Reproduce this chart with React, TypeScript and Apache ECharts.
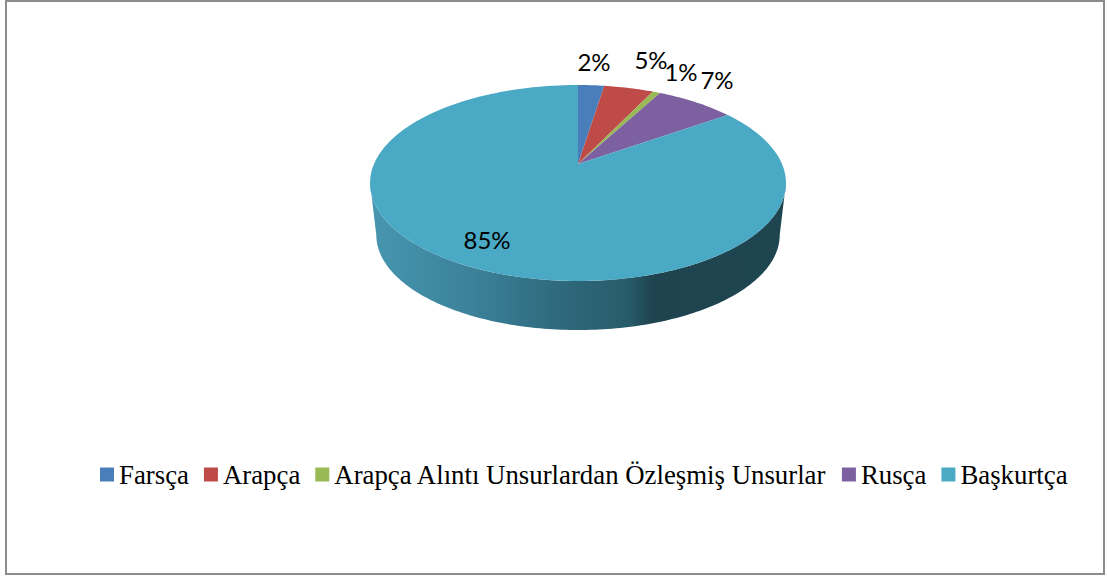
import React, { useEffect, useRef } from "react";
import * as echarts from "echarts";

const categories = ["Farsça", "Arapça", "Arapça Alıntı Unsurlardan Özleşmiş Unsurlar", "Rusça", "Başkurtça"];
const shares = [2.45, 4.65, 0.7, 7.4, 84.8];
const colors = ["#4a7ebb", "#be4b48", "#98b954", "#7d60a0", "#4aa9c4"];

// Layout of the tilted pie: a projective map of the unit circle
const CX = 578, CY = 164, A = 204, B = 94.3, P = 0.194;
const TOP_MID_Y = 183, BASE_MID_Y = 235, BASE_SCALE = 0.97;
const labelCenters = [[594, 61], [651, 59], [681, 71], [717, 79], [487, 239]];

const total = shares.reduce((a, b) => a + b, 0);
const DEG = Math.PI / 180;
const RIM_FROM = Math.acos(-P);
const RIM_TO = 2 * Math.PI - RIM_FROM;

function project(theta: number): [number, number] {
  const u = Math.sin(theta), v = -Math.cos(theta);
  const w = 1 - P * v;
  return [CX + (A * u) / w, CY + (B * v) / w];
}
function base(p: [number, number]): [number, number] {
  return [CX + BASE_SCALE * (p[0] - CX), BASE_MID_Y + BASE_SCALE * (p[1] - TOP_MID_Y)];
}
function sample(a: number, b: number): number[] {
  const out: number[] = [];
  const n = Math.max(2, Math.ceil((b - a) / DEG));
  for (let i = 0; i <= n; i++) out.push(a + ((b - a) * i) / n);
  return out;
}

const wallGradient = () =>
  new echarts.graphic.LinearGradient(0, 0, 1, 0, [
    { offset: 0, color: "#4796b0" },
    { offset: 0.25, color: "#3b8199" },
    { offset: 0.45, color: "#2f6a7d" },
    { offset: 0.62, color: "#285c6b" },
    { offset: 0.68, color: "#1e444f" },
    { offset: 1, color: "#1e4650" },
  ]);

function makeRender(index: number) {
  return (_params: any, api: any) => {
    const value = api.value(0) as number;
    const before = shares.slice(0, index).reduce((a, b) => a + b, 0);
    const start = (before / total) * 2 * Math.PI;
    const end = ((before + value) / total) * 2 * Math.PI;
    const children: any[] = [];

    // Side wall: only the near half of the rim can be seen
    const rimA = Math.max(start, RIM_FROM);
    const rimB = Math.min(end, RIM_TO);
    if (rimB > rimA) {
      const edge = sample(rimA, rimB).map(project);
      const lower = edge.map(base).reverse();
      children.push({
        type: "polygon",
        shape: { points: [...edge, ...lower] },
        style: { fill: wallGradient() },
      });
    }

    const rim = sample(start, end).map(project);
    children.push({
      type: "polygon",
      shape: { points: [[CX, CY], ...rim] },
      style: { fill: colors[index] },
    });

    const [lx, ly] = labelCenters[index];
    children.push({
      type: "text",
      x: lx,
      y: ly,
      z2: 10,
      style: {
        text: `${Math.round((value / total) * 100)}%`,
        fill: "#000000",
        font: '24px Lato, "Open Sans", sans-serif',
        textAlign: "center",
        textVerticalAlign: "middle",
      },
    });
    return { type: "group", children };
  };
}

export default function App() {
  const ref = useRef<HTMLDivElement>(null);
  useEffect(() => {
    const chart = echarts.init(ref.current!, undefined, { renderer: "svg" });
    chart.setOption({
      animation: false,
      backgroundColor: "#ffffff",
      color: colors,
      graphic: [
        {
          type: "rect",
          silent: true,
          shape: { x: 6, y: 1, width: 1098, height: 573 },
          style: { fill: "none", stroke: "#8c8c8c", lineWidth: 2 },
        },
      ],
      legend: {
        left: 100,
        top: 461,
        padding: 0,
        icon: "rect",
        itemWidth: 14,
        itemHeight: 14,
        itemGap: 15,
        selectedMode: false,
        textStyle: {
          fontFamily: '"Liberation Serif", serif',
          fontSize: 26.8,
          color: "#000000",
          padding: [0, 0, 0, 0],
        },
        data: categories,
      },
      series: categories.map((name, i) => ({
        type: "custom",
        name,
        coordinateSystem: "none",
        renderItem: makeRender(i),
        itemStyle: { color: colors[i] },
        data: [[shares[i]]],
      })),
    });
    return () => chart.dispose();
  }, []);
  return <div ref={ref} style={{ position: "fixed", left: 0, top: 0, width: 1107, height: 576 }} />;
}
